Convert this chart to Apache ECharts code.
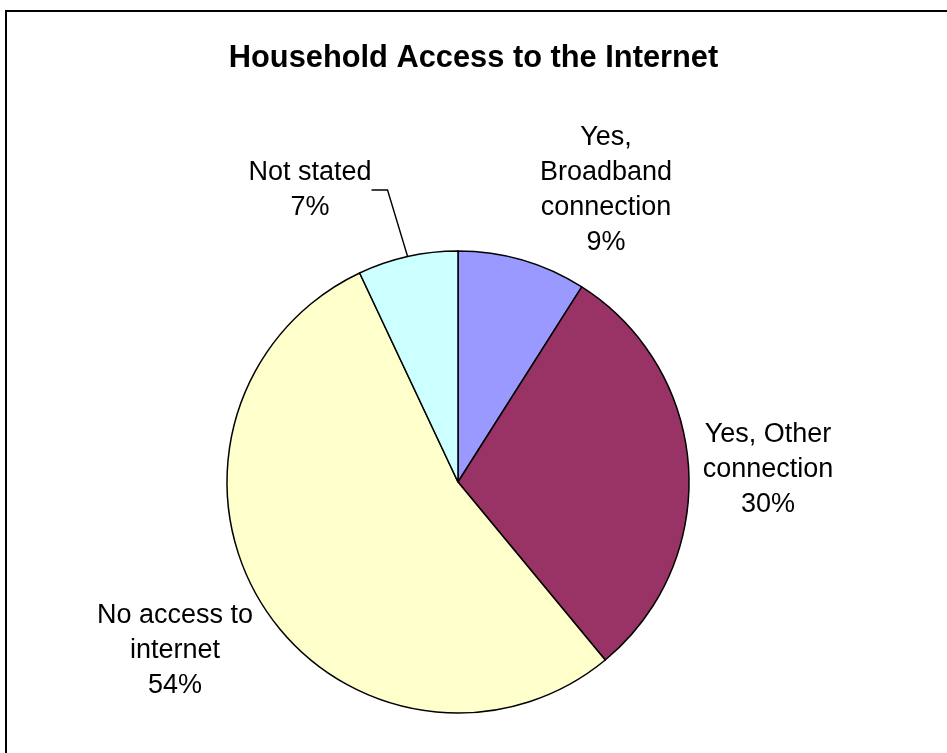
<!DOCTYPE html>
<html>
<head>
<meta charset="utf-8">
<script src="https://cdn.jsdelivr.net/npm/echarts@6/dist/echarts.min.js"></script>
<style>
  html, body { margin: 0; padding: 0; background: #ffffff; overflow: hidden; }
  #chart { position: absolute; left: 0; top: 0; width: 947px; height: 753px; }
  #frame { position: absolute; left: 5px; top: 10px; width: 940px; height: 800px; border: 2px solid #000; pointer-events: none; box-sizing: content-box; }
</style>
</head>
<body>
<div id="chart"></div>
<div id="frame"></div>
<script>
// ---- data ----
const titleText = 'Household Access to the Internet';
const categories = ['Yes, Broadband connection', 'Yes, Other connection', 'No access to internet', 'Not stated'];
const labelNames = ['Yes,\nBroadband\nconnection', 'Yes, Other\nconnection', 'No access to\ninternet', 'Not stated'];
const values = [9, 30, 54, 7];
const colors = ['#9999FF', '#993366', '#FFFFCC', '#CCFFFF'];

// ---- label placement (style) ----
const labelPos = [[606, 190], [768, 470], [175, 651], [310, 190]];
const showLeader = [false, false, false, true];

const chart = echarts.init(document.getElementById('chart'), null, { renderer: 'canvas' });
const font = '"Liberation Sans", Arial, Helvetica, sans-serif';

const data = categories.map((c, i) => ({
  name: c,
  value: values[i],
  itemStyle: { color: colors[i] },
  label: { formatter: labelNames[i] + '\n{d}%' },
  labelLine: { show: showLeader[i] }
}));

chart.setOption({
  animation: false,
  backgroundColor: '#ffffff',
  title: {
    text: titleText,
    left: 'center',
    top: 38,
    textStyle: { fontFamily: font, fontWeight: 'bold', fontSize: 30.8, color: '#000' }
  },
  series: [{
    type: 'pie',
    center: [458, 482],
    radius: 231,
    startAngle: 90,
    clockwise: true,
    avoidLabelOverlap: false,
    itemStyle: { borderColor: '#000', borderWidth: 1.5 },
    label: {
      show: true,
      position: 'outside',
      fontFamily: font,
      fontSize: 27,
      lineHeight: 35,
      color: '#000',
      align: 'center'
    },
    labelLine: {
      show: true,
      length: 68,
      length2: 16,
      smooth: false,
      lineStyle: { color: '#000', width: 1.4 }
    },
    labelLayout: function (p) {
      const pos = labelPos[p.dataIndex];
      return { x: pos[0], y: pos[1], align: 'center', verticalAlign: 'middle' };
    },
    emphasis: { disabled: true },
    data: data
  }]
});
</script>
</body>
</html>
